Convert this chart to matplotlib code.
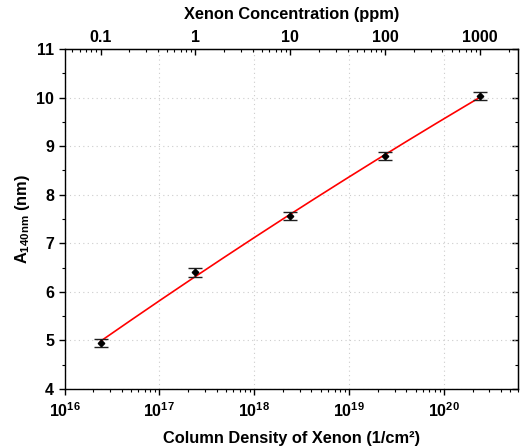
import numpy as np
import matplotlib
matplotlib.use("Agg")
import matplotlib.pyplot as plt
from matplotlib.ticker import FixedLocator, FuncFormatter, LogLocator, NullFormatter, MultipleLocator

plt.rcParams["font.family"] = ["Liberation Sans", "DejaVu Sans"]
plt.rcParams["font.weight"] = "bold"
plt.rcParams["mathtext.fontset"] = "custom"
plt.rcParams["mathtext.rm"] = "Liberation Sans:bold"
plt.rcParams["mathtext.bf"] = "Liberation Sans:bold"

# conversion: column density per ppm of xenon
PPM_TO_N = 2.4e17

ppm = [0.1, 1, 10, 100, 1000]
a140 = [4.95, 6.40, 7.56, 8.80, 10.03]
a140_err = [0.085, 0.085, 0.085, 0.085, 0.085]
top_ticks = [0.1, 1, 10, 100, 1000]
top_labels = ["0.1", "1", "10", "100", "1000"]

col_density = np.array(ppm) * PPM_TO_N

# quadratic fit in log space for the red curve
coef = np.polyfit(np.log10(col_density), a140, 2)
xfit = np.logspace(np.log10(col_density[0]), np.log10(col_density[-1]), 200)
yfit = np.polyval(coef, np.log10(xfit))

fig = plt.figure(figsize=(5.2, 4.48), dpi=100)
ax = fig.add_axes([64.5 / 520, 1 - 389 / 448, (518 - 64.5) / 520, (389 - 49) / 448])

ax.plot(xfit, yfit, color="red", lw=1.2, zorder=3)
ax.errorbar(col_density, a140, yerr=a140_err, fmt="D", ms=3.3, color="black",
            ecolor="#202020", elinewidth=1.0, capsize=5, capthick=1.0, zorder=4)

ax.set_xscale("log")
ax.set_xlim(1e16, 6e20)
ax.set_ylim(4, 11)
ax.grid(True, which="major", color="#cccccc", ls=(0, (1, 3)), lw=0.8)
ax.set_axisbelow(True)

ax.xaxis.set_major_locator(LogLocator(base=10, numticks=10))
ax.xaxis.set_minor_locator(LogLocator(base=10, subs=np.arange(2, 10), numticks=10))
ax.xaxis.set_minor_formatter(NullFormatter())
ax.xaxis.set_major_formatter(FuncFormatter(lambda v, p: r"$\mathbf{10^{%d}}$" % round(np.log10(v))))
ax.yaxis.set_major_locator(MultipleLocator(1))
ax.yaxis.set_minor_locator(MultipleLocator(0.5))

for s in ax.spines.values():
    s.set_linewidth(1.0)
ax.tick_params(axis="both", which="major", direction="out", length=4, width=1.0,
               labelsize=11.5, top=False, right=False)
ax.tick_params(axis="x", which="major", pad=5)
ax.tick_params(axis="both", which="minor", direction="out", length=2.5, width=0.8,
               top=False, right=False)

# top axis in ppm
sec = ax.secondary_xaxis("top", functions=(lambda x: x / PPM_TO_N, lambda x: x * PPM_TO_N))
sec.xaxis.set_major_locator(FixedLocator(top_ticks))
sec.xaxis.set_major_formatter(FuncFormatter(lambda v, p: top_labels[top_ticks.index(min(top_ticks, key=lambda t: abs(np.log10(t) - np.log10(v))))]))
sec.xaxis.set_minor_locator(LogLocator(base=10, subs=np.arange(2, 10), numticks=10))
sec.xaxis.set_minor_formatter(NullFormatter())
sec.tick_params(which="major", direction="in", length=4, width=1.0, labelsize=11.5, pad=3)
sec.tick_params(which="minor", direction="in", length=2.5, width=0.8)
sec.set_xlabel("Xenon Concentration (ppm)", fontsize=11.8, fontweight="bold", labelpad=8)

# right axis mirror with inward ticks
rsec = ax.secondary_yaxis("right", functions=(lambda y: y, lambda y: y))
rsec.yaxis.set_major_locator(MultipleLocator(1))
rsec.yaxis.set_minor_locator(MultipleLocator(0.5))
rsec.tick_params(which="major", direction="in", length=4, width=1.0, labelright=False)
rsec.tick_params(which="minor", direction="in", length=2.5, width=0.8)

ax.set_xlabel("Column Density of Xenon (1/cm²)", fontsize=11.8, fontweight="bold", labelpad=8)
ax.set_ylabel(r"$\mathbf{A_{140nm}}$ (nm)", fontsize=11.8, fontweight="bold", labelpad=3)

fig.savefig("out.png", dpi=100)
